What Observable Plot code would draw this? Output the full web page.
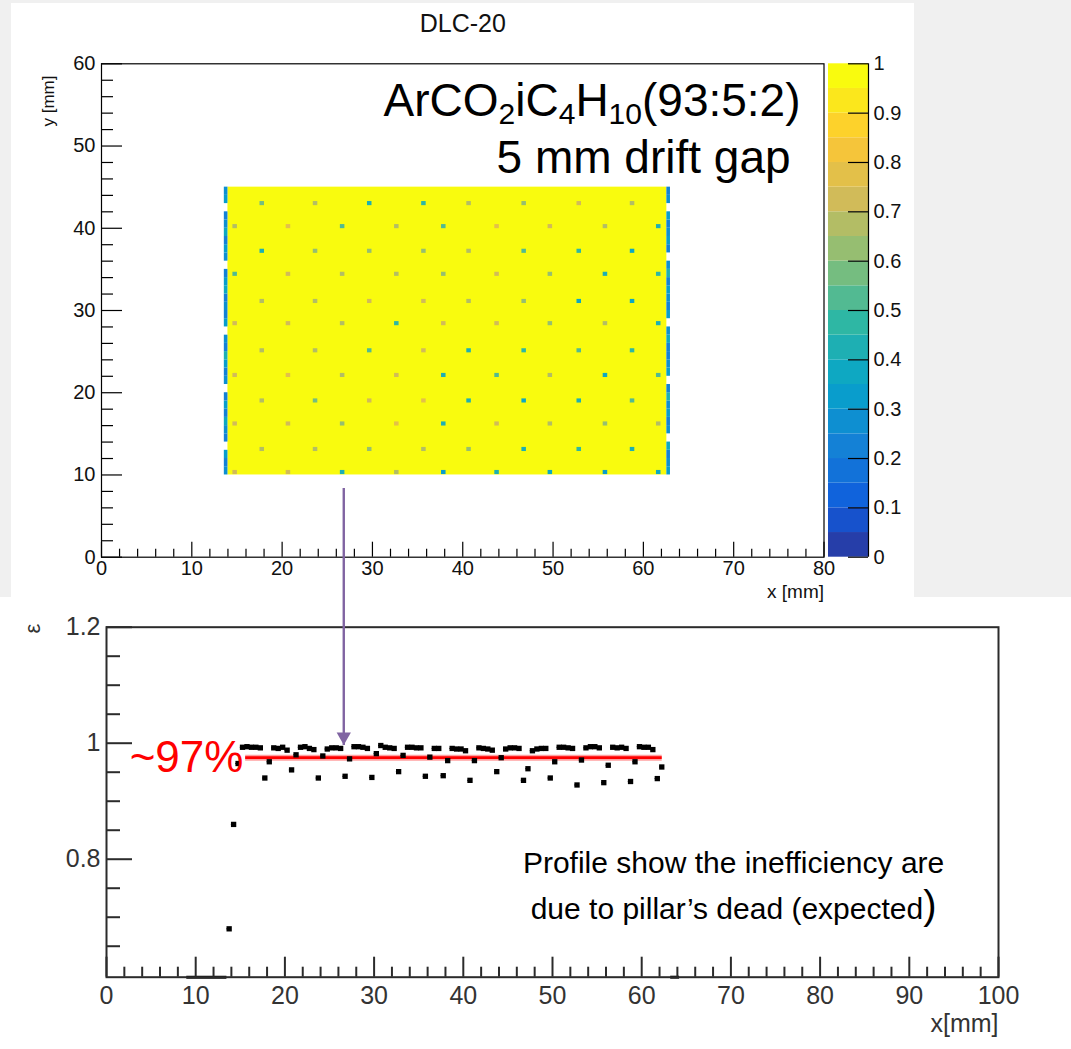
<!DOCTYPE html>
<html><head><meta charset="utf-8">
<script src="https://cdn.jsdelivr.net/npm/d3@7"></script>
<script src="https://cdn.jsdelivr.net/npm/@observablehq/plot@0.6"></script>
<style>
html,body{margin:0;padding:0;background:#fff;}
#page{position:relative;width:1071px;height:1049px;overflow:hidden;background:#fff;font-family:"Liberation Sans",Arial,sans-serif;}
#topBg{position:absolute;left:0;top:0;width:1071px;height:597px;background:#f0f0f0;}
#topPanel{position:absolute;left:11px;top:3px;width:903px;height:594px;background:#fff;}
.layer{position:absolute;left:0;top:0;}
.layer svg{overflow:visible;}
</style></head><body>
<div id="page">
  <div id="topBg"></div><div id="topPanel"></div>
  <div id="top" class="layer"></div>
  <div id="cbar" class="layer" style="left:780px"></div>
  <div id="bottom" class="layer" style="top:480px"></div>
</div>
<script>
// ================= DATA =================
// --- top: 2D efficiency map ---
const mapTitle = "DLC-20";
const gasLine = "ArCO2iC4H10(93:5:2)";
const gapLine = "5 mm drift gap";
const activeArea = [{x1: 14.0, x2: 62.6, y1: 10.0, y2: 45.0, eff: 0.98}];
const pillarRowY = [43.0, 40.2, 37.2, 34.4, 31.1, 28.4, 25.1, 22.1, 19.0, 16.2, 13.1, 10.3];
const pillarColsA = [17.8, 23.7, 29.7, 35.7, 40.7, 46.8, 52.9, 58.8];
const pillarColsB = [14.8, 20.7, 26.7, 32.7, 37.9, 43.8, 49.7, 55.8, 61.7];
const pillarEff = [
  [0.55, 0.65, 0.40, 0.45, 0.65, 0.60, 0.70, 0.65],
  [0.65, 0.75, 0.50, 0.65, 0.50, 0.75, 0.70, 0.65, 0.40],
  [0.40, 0.60, 0.60, 0.60, 0.65, 0.50, 0.45, 0.35],
  [0.50, 0.70, 0.65, 0.65, 0.60, 0.70, 0.60, 0.40, 0.45],
  [0.65, 0.65, 0.70, 0.70, 0.65, 0.60, 0.35, 0.35],
  [0.70, 0.70, 0.65, 0.45, 0.70, 0.70, 0.60, 0.65, 0.40],
  [0.65, 0.65, 0.50, 0.70, 0.40, 0.45, 0.50, 0.45],
  [0.70, 0.75, 0.65, 0.70, 0.40, 0.50, 0.65, 0.35, 0.50],
  [0.65, 0.55, 0.70, 0.75, 0.40, 0.35, 0.40, 0.50],
  [0.70, 0.70, 0.60, 0.75, 0.40, 0.70, 0.65, 0.60, 0.65],
  [0.65, 0.65, 0.60, 0.65, 0.60, 0.40, 0.45, 0.40],
  [0.70, 0.70, 0.40, 0.65, 0.30, 0.40, 0.35, 0.30, 0.35]
];
const edgeBinY = [10,11,12,13,14,15,16,17,18,19,20,21,22,23,24,25,26,27,28,29,30,31,32,33,34,35,36,37,38,39,40,41,42,43,44];
const leftEdgeX = [13.6, 14.0];
const rightEdgeX = [62.6, 63.0];
const leftEdgeEff = [0.25,0.2,0.3,null,0.2,0.25,0.35,0.2,0.3,0.2,null,0.25,0.2,0.3,0.4,0.2,0.25,null,0.3,0.2,0.25,0.2,0.35,0.3,0.2,null,0.25,0.3,0.2,0.35,0.25,0.2,null,0.3,0.25];
const rightEdgeEff = [0.3,0.25,0.2,0.35,null,0.25,0.2,0.3,0.25,0.4,0.2,null,0.3,0.25,0.2,0.2,0.35,0.25,null,0.3,0.2,0.25,0.3,0.2,0.4,0.25,null,0.2,0.3,0.25,0.2,0.3,null,0.25,0.2];
const xTicksTop = [0,10,20,30,40,50,60,70,80];
const yTicksTop = [0,10,20,30,40,50,60];
const cbTicks = [0,0.1,0.2,0.3,0.4,0.5,0.6,0.7,0.8,0.9,1];
const cbLabels = ["0","0.1","0.2","0.3","0.4","0.5","0.6","0.7","0.8","0.9","1"];
// ROOT kBird palette stops
const birdStops = ["#352a87","#0f5cdd","#1481d6","#06a4ca","#2eb7a4","#87bf77","#d1bb59","#fec832","#f9fb0e"];

// --- bottom: efficiency profile ---
const profX = [
  13.75,14.25,14.75,15.25,15.75,16.25,16.75,17.25,
  17.75,18.25,18.75,19.25,19.75,20.25,
  20.75,21.25,21.75,22.25,22.75,23.25,
  23.75,24.25,24.75,25.25,25.75,26.25,
  26.75,27.25,27.75,28.25,28.75,29.25,
  29.75,30.25,30.75,31.25,31.75,32.25,
  32.75,33.25,33.75,34.25,34.75,35.25,
  35.75,36.25,36.75,37.25,
  37.75,38.25,38.75,39.25,39.75,40.25,
  40.75,41.25,41.75,42.25,42.75,43.25,
  43.75,44.25,44.75,45.25,45.75,46.25,
  46.75,47.25,47.75,48.25,48.75,49.25,
  49.75,50.25,50.75,51.25,51.75,52.25,
  52.75,53.25,53.75,54.25,54.75,55.25,
  55.75,56.25,56.75,57.25,57.75,58.25,
  58.75,59.25,59.75,60.25,60.75,61.25,
  61.75,62.25
];
const profEff = [
  0.680,0.860,0.965,0.993,0.994,0.993,0.993,0.992,
  0.940,0.968,0.992,0.991,0.993,0.988,
  0.954,0.980,0.993,0.994,0.991,0.989,
  0.940,0.978,0.990,0.992,0.992,0.991,
  0.943,0.973,0.994,0.994,0.993,0.991,
  0.941,0.982,0.996,0.993,0.992,0.991,
  0.951,0.979,0.993,0.993,0.992,0.992,
  0.943,0.976,0.991,0.991,
  0.944,0.970,0.991,0.990,0.990,0.987,
  0.936,0.970,0.992,0.991,0.990,0.988,
  0.951,0.975,0.990,0.992,0.992,0.991,
  0.936,0.956,0.987,0.990,0.991,0.991,
  0.940,0.968,0.993,0.993,0.992,0.991,
  0.928,0.971,0.992,0.994,0.994,0.992,
  0.932,0.962,0.993,0.992,0.993,0.991,
  0.934,0.968,0.994,0.993,0.993,0.989,
  0.939,0.959
];
const binHalf = 0.25;
const zeroRuns = [[9.0, 13.5], [63.25, 64.25]];
const fitLine = [{from: 15.6, to: 62.3, level: 0.975}];
const fitLabel = "~97%";
const xTicksBottom = [0,10,20,30,40,50,60,70,80,90,100];
const yTicksBottom = [0.8, 1.0, 1.2];
const yTickLabelsBottom = ["0.8", "1", "1.2"];
const yMinorBottom = [0.65,0.7,0.75,0.85,0.9,0.95,1.05,1.1,1.15];
const yDomainBottom = [0.5966, 1.2];
const noteLines = ["Profile show the inefficiency are", "due to pillar\u2019s dead (expected)"];
const arrowLink = [{x: 26.6, from: 1.44, to: 0.997}];

// ================= SCALES =================
const birdInterp = d3.piecewise(d3.interpolateRgb, birdStops);
const nBands = 20;
const bandColors = d3.range(nBands).map(i => birdInterp((i + 1) / nBands));
const bandEdges = d3.range(nBands + 1).map(i => i / nBands);
const colorOpt = {type: "threshold", domain: bandEdges.slice(1, -1), range: bandColors};
const font = "'Liberation Sans', Arial, sans-serif";
const baseStyle = {background: "transparent", fontFamily: font, color: "#000", overflow: "visible"};

// ================= TOP MAP =================
const pillars = [];
pillarRowY.forEach((y, r) => {
  const cols = r % 2 === 0 ? pillarColsA : pillarColsB;
  cols.forEach((x, c) => pillars.push({x, y, eff: pillarEff[r][c]}));
});
const edges = [];
edgeBinY.forEach((y, i) => {
  if (leftEdgeEff[i] != null) edges.push({x1: leftEdgeX[0], x2: leftEdgeX[1], y1: y, y2: y + 1, eff: leftEdgeEff[i]});
  if (rightEdgeEff[i] != null) edges.push({x1: rightEdgeX[0], x2: rightEdgeX[1], y1: y, y2: y + 1, eff: rightEdgeEff[i]});
});
const xMinorTop = d3.range(0, 81, 2).filter(d => d % 10 !== 0);
const yMinorTop = d3.range(0, 61, 2).filter(d => d % 10 !== 0);

const topMT = 63.3, topMB = 40.3, topML = 101, topMR = 247.5, topH = 597, topW = 1071;
const topFH = topH - topMT - topMB, topFW = topW - topML - topMR;

const topPlot = Plot.plot({
  width: topW, height: topH,
  marginLeft: topML, marginRight: topMR, marginTop: topMT, marginBottom: topMB,
  x: {domain: [0, 80], axis: null},
  y: {domain: [0, 60], axis: null},
  color: colorOpt,
  style: baseStyle,
  marks: [
    Plot.rect(activeArea, {x1: "x1", x2: "x2", y1: "y1", y2: "y2", fill: "eff"}),
    Plot.rect(edges, {x1: "x1", x2: "x2", y1: "y1", y2: "y2", fill: "eff"}),
    Plot.rect(pillars, {x1: d => d.x - 0.25, x2: d => d.x + 0.25, y1: d => d.y - 0.25, y2: d => d.y + 0.25, fill: "eff"}),
    Plot.frame({stroke: "#000", strokeWidth: 1.2}),
    Plot.tickX(xTicksTop, {x: d => d, insetTop: topFH - 15, stroke: "#000", strokeWidth: 1.2}),
    Plot.tickX(xMinorTop, {x: d => d, insetTop: topFH - 8, stroke: "#000", strokeWidth: 1.2}),
    Plot.tickY(yTicksTop, {y: d => d, insetRight: topFW - 21, stroke: "#000", strokeWidth: 1.2}),
    Plot.tickY(yMinorTop, {y: d => d, insetRight: topFW - 12, stroke: "#000", strokeWidth: 1.2}),
    Plot.text(xTicksTop, {x: d => d, frameAnchor: "bottom", dy: 11.3, text: d => String(d), fontSize: 20, lineAnchor: "middle", fill: "#111"}),
    Plot.text(yTicksTop, {y: d => d, frameAnchor: "left", dx: -6, textAnchor: "end", text: d => String(d), fontSize: 20, lineAnchor: "middle", fill: "#111"}),
    Plot.text(["x [mm]"], {text: d => d, frameAnchor: "bottom-right", dy: 35, textAnchor: "end", lineAnchor: "middle", fontSize: 19, fill: "#111"}),
    Plot.text(["y [mm]"], {text: d => d, frameAnchor: "top-left", dx: -53, dy: 11.7, rotate: -90, textAnchor: "end", lineAnchor: "middle", fontSize: 17, fill: "#111"}),
    Plot.text([mapTitle], {text: d => d, frameAnchor: "top", dy: -40, fontSize: 25, lineAnchor: "middle", fill: "#111"}),
    Plot.text([gasLine], {text: d => d, x: () => 77.4, y: () => 55.4, textAnchor: "end", lineAnchor: "middle", fontSize: 46, fill: "#000"}),
    Plot.text([gapLine], {text: d => d, x: () => 76.3, y: () => 48.5, textAnchor: "end", lineAnchor: "middle", fontSize: 46, fill: "#000"})
  ]
});
document.getElementById("top").appendChild(topPlot);

// subscripts in the gas mixture
d3.select(topPlot).selectAll("text").filter(function() { return this.textContent === gasLine; }).each(function() {
  const t = d3.select(this);
  t.text(null);
  const parts = [["ArCO", false], ["2", true], ["iC", false], ["4", true], ["H", false], ["10", true], ["(93:5:2)", false]];
  let inSub = false;
  parts.forEach(([s, isSub]) => {
    const ts = t.append("tspan").text(s);
    if (isSub) { ts.attr("font-size", 30); if (!inSub) ts.attr("dy", 8); inSub = true; }
    else { if (inSub) ts.attr("dy", -8); inSub = false; }
  });
});

// ================= COLOR BAR =================
const bands = d3.range(nBands).map(i => ({lo: bandEdges[i], hi: bandEdges[i + 1], mid: (bandEdges[i] + bandEdges[i + 1]) / 2}));
const cbPlot = Plot.plot({
  width: 140, height: topH,
  marginLeft: 48, marginRight: 52, marginTop: topMT, marginBottom: topMB,
  x: {domain: [0, 1], axis: null},
  y: {domain: [0, 1], axis: null},
  color: colorOpt,
  style: baseStyle,
  marks: [
    Plot.rect(bands, {x1: 0, x2: 1, y1: "lo", y2: "hi", fill: "mid"}),
    Plot.ruleX([1], {stroke: "#000", strokeWidth: 1.2}),
    Plot.tickY(cbTicks, {y: d => d, insetLeft: 20, stroke: "#000", strokeWidth: 1.2}),
    Plot.text(cbTicks, {y: d => d, frameAnchor: "right", dx: 5, textAnchor: "start", text: (d, i) => cbLabels[i], fontSize: 20, lineAnchor: "middle", fill: "#111"})
  ]
});
document.getElementById("cbar").appendChild(cbPlot);

// ================= BOTTOM PROFILE =================
const profile = profX.map((x, i) => ({x, eff: profEff[i]}));
const xMinorBottom = d3.range(0, 101, 2).filter(d => d % 10 !== 0);
const botMT = 146.7, botMB = 72.3, botML = 106, botMR = 73, botH = 569, botW = 1071;
const botFH = botH - botMT - botMB, botFW = botW - botML - botMR;
const purple = "#8064a2";
const triDown = {draw(ctx, size) {
  const s = Math.sqrt(size / (Math.sqrt(3) / 4)), h = s * Math.sqrt(3) / 2;
  ctx.moveTo(0, 0); ctx.lineTo(-s / 2, -h); ctx.lineTo(s / 2, -h); ctx.closePath();
}};

const botPlot = Plot.plot({
  width: botW, height: botH,
  marginLeft: botML, marginRight: botMR, marginTop: botMT, marginBottom: botMB,
  x: {domain: [0, 100], axis: null},
  y: {domain: yDomainBottom, axis: null},
  style: baseStyle,
  marks: [
    Plot.ruleY(fitLine, {x1: "from", x2: "to", y: "level", stroke: "#ffa0a0", strokeWidth: 6}),
    Plot.ruleY(fitLine, {x1: "from", x2: "to", y: "level", stroke: "#ff0000", strokeWidth: 2.8}),
    Plot.ruleY(profile, {x1: d => d.x - binHalf, x2: d => d.x + binHalf, y: "eff", stroke: "#000", strokeWidth: 1}),
    Plot.dot(profile, {x: "x", y: "eff", symbol: "square", r: 3, fill: "#000", stroke: null}),
    Plot.ruleY(zeroRuns, {x1: d => d[0], x2: d => d[1], y: () => yDomainBottom[0], stroke: "#000", strokeWidth: 3}),
    Plot.frame({stroke: "#2b2b2b", strokeWidth: 2}),
    Plot.tickX(xTicksBottom, {x: d => d, insetTop: botFH - 20, stroke: "#2b2b2b", strokeWidth: 2}),
    Plot.tickX(xMinorBottom, {x: d => d, insetTop: botFH - 10, stroke: "#2b2b2b", strokeWidth: 2}),
    Plot.tickY(yTicksBottom, {y: d => d, insetRight: botFW - 26, stroke: "#2b2b2b", strokeWidth: 2}),
    Plot.tickY(yMinorBottom, {y: d => d, insetRight: botFW - 14, stroke: "#2b2b2b", strokeWidth: 2}),
    Plot.text(xTicksBottom, {x: d => d, frameAnchor: "bottom", dy: 18.3, text: d => String(d), fontSize: 25, lineAnchor: "middle", fill: "#333"}),
    Plot.text(yTicksBottom, {y: d => d, frameAnchor: "left", dx: -6, textAnchor: "end", text: (d, i) => yTickLabelsBottom[i], fontSize: 25, lineAnchor: "middle", fill: "#333"}),
    Plot.text(["x[mm]"], {text: d => d, frameAnchor: "bottom-right", dy: 47, textAnchor: "end", lineAnchor: "middle", fontSize: 25, fill: "#333"}),
    Plot.text(["\u03b5"], {text: d => d, frameAnchor: "top-left", dx: -73.3, dy: 6.3, rotate: -90, lineAnchor: "middle", fontSize: 22, fill: "#333"}),
    Plot.link(arrowLink, {x1: "x", x2: "x", y1: "from", y2: "to", stroke: purple, strokeWidth: 2.4}),
    Plot.dot(arrowLink, {x: "x", y: "to", symbol: triDown, r: 5.3, fill: purple, stroke: null}),
    Plot.text([fitLabel], {text: d => d, x: () => 15.35, y: () => fitLine[0].level, textAnchor: "end", lineAnchor: "middle", fontSize: 44, fill: "#ff0000"}),
    Plot.text([noteLines[0]], {text: d => d, x: () => 70.3, y: () => 0.793, lineAnchor: "middle", fontSize: 30, fill: "#000"}),
    Plot.text([noteLines[1]], {text: d => d, x: () => 70.3, y: () => 0.713, lineAnchor: "middle", fontSize: 30, fill: "#000"})
  ]
});
document.getElementById("bottom").appendChild(botPlot);

// larger closing parenthesis in the note
d3.select(botPlot).selectAll("text").filter(function() { return this.textContent === noteLines[1]; }).each(function() {
  const t = d3.select(this);
  const s = noteLines[1];
  t.text(null);
  t.append("tspan").text(s.slice(0, -1));
  t.append("tspan").attr("font-size", 40).text(s.slice(-1));
});
</script>
</body></html>
